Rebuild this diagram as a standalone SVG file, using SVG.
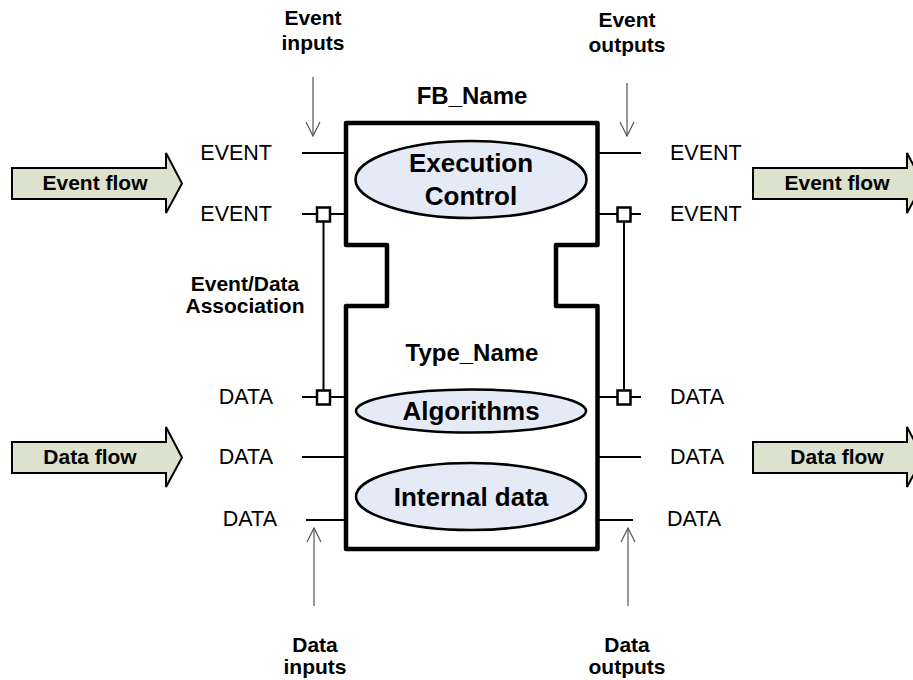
<svg xmlns="http://www.w3.org/2000/svg" width="913" height="680" viewBox="0 0 913 680">
<defs>
<style>
text{font-family:"Liberation Sans",Arial,sans-serif;fill:#000}
.lbl{font-size:21.5px}
.b{font-weight:bold;font-size:21px;text-anchor:middle}
.t{font-weight:bold;font-size:26px;text-anchor:middle}
.h{font-weight:bold;font-size:24px;text-anchor:middle}
.el{fill:#E4EBF6;stroke:#000;stroke-width:2.5}
.pin{stroke:#000;stroke-width:2;fill:none}
.asq{fill:#fff;stroke:#000;stroke-width:2.5}
.flow{fill:#DDE2CE;stroke:#000;stroke-width:2;stroke-linejoin:miter}
.ft{font-weight:bold;font-size:21px;text-anchor:middle}
.gar{stroke:#555;stroke-width:1.2;fill:none}
</style>
<marker id="open" viewBox="0 0 16 16" refX="15" refY="8" markerWidth="16" markerHeight="16" markerUnits="userSpaceOnUse" orient="auto">
<path d="M1,1 L15,8 L1,15" fill="none" stroke="#555" stroke-width="1.2"/>
</marker>
</defs>

<g id="block">
<path d="M346,123 H597.5 V245 H556 V306 H597.5 V549 H346 V306 H387 V245 H346 Z" fill="#fff" stroke="#000" stroke-width="4.5" stroke-linejoin="round"/>
<text class="h" x="472" y="103.5">FB_Name</text>
<text class="h" x="472" y="361">Type_Name</text>
</g>

<g id="execution-control">
<ellipse class="el" cx="471" cy="179.5" rx="115.5" ry="38.5"/>
<text class="t" x="471" y="172">Execution</text>
<text class="t" x="471" y="205">Control</text>
</g>
<g id="algorithms">
<ellipse class="el" cx="471" cy="411" rx="115" ry="21.5"/>
<text class="t" x="471" y="420">Algorithms</text>
</g>
<g id="internal-data">
<ellipse class="el" cx="471" cy="496.5" rx="115" ry="33.5"/>
<text class="t" x="471" y="506">Internal data</text>
</g>

<g id="connectors">
<line class="pin" x1="302" y1="153" x2="346" y2="153"/>
<line class="pin" x1="302" y1="214" x2="346" y2="214"/>
<line class="pin" x1="302" y1="397" x2="346" y2="397"/>
<line class="pin" x1="302" y1="457" x2="346" y2="457"/>
<line class="pin" x1="306" y1="520" x2="346" y2="520"/>
<line class="pin" x1="597" y1="153" x2="641" y2="153"/>
<line class="pin" x1="597" y1="214" x2="641" y2="214"/>
<line class="pin" x1="597" y1="397" x2="641" y2="397"/>
<line class="pin" x1="597" y1="457" x2="641" y2="457"/>
<line class="pin" x1="597" y1="520" x2="633" y2="520"/>
<line class="pin" x1="323.5" y1="214" x2="323.5" y2="397"/>
<line class="pin" x1="624" y1="214" x2="624" y2="397"/>
<rect class="asq" x="317" y="207.5" width="13" height="14"/>
<rect class="asq" x="317" y="390.5" width="13" height="14"/>
<rect class="asq" x="617.5" y="207.5" width="13" height="14"/>
<rect class="asq" x="617.5" y="390.5" width="13" height="14"/>
<line class="gar" x1="313" y1="77" x2="313" y2="136" marker-end="url(#open)"/>
<line class="gar" x1="627" y1="83" x2="627" y2="136" marker-end="url(#open)"/>
<line class="gar" x1="314" y1="606" x2="314" y2="528" marker-end="url(#open)"/>
<line class="gar" x1="628" y1="606" x2="628" y2="528" marker-end="url(#open)"/>
</g>

<g id="pin-labels">
<text class="lbl" x="272" y="160" text-anchor="end">EVENT</text>
<text class="lbl" x="272" y="221" text-anchor="end">EVENT</text>
<text class="lbl" x="273" y="404" text-anchor="end">DATA</text>
<text class="lbl" x="273" y="464" text-anchor="end">DATA</text>
<text class="lbl" x="277" y="526" text-anchor="end">DATA</text>
<text class="lbl" x="670" y="160">EVENT</text>
<text class="lbl" x="670" y="221">EVENT</text>
<text class="lbl" x="670" y="404">DATA</text>
<text class="lbl" x="670" y="464">DATA</text>
<text class="lbl" x="667" y="526">DATA</text>
</g>

<g id="event-inputs-label">
<text class="b" x="313" y="25">Event</text>
<text class="b" x="313" y="50">inputs</text>
</g>
<g id="event-outputs-label">
<text class="b" x="627" y="26.5">Event</text>
<text class="b" x="627" y="52">outputs</text>
</g>
<g id="association-label">
<text class="b" x="245" y="290.5">Event/Data</text>
<text class="b" x="245" y="313">Association</text>
</g>
<g id="data-inputs-label">
<text class="b" x="315" y="652">Data</text>
<text class="b" x="315" y="674">inputs</text>
</g>
<g id="data-outputs-label">
<text class="b" x="627" y="652">Data</text>
<text class="b" x="627" y="674">outputs</text>
</g>

<g id="event-flow-in">
<path class="flow" d="M12,168 H166 V153 L182,183.5 L166,213 V199 H12 Z"/>
<text class="ft" x="95" y="190">Event flow</text>
</g>
<g id="event-flow-out">
<path class="flow" d="M753,168 H907 V153 L923,183.5 L907,213 V199 H753 Z"/>
<text class="ft" x="837" y="190">Event flow</text>
</g>
<g id="data-flow-in">
<path class="flow" d="M12,442 H166 V427 L182,457.5 L166,487 V473 H12 Z"/>
<text class="ft" x="90" y="464">Data flow</text>
</g>
<g id="data-flow-out">
<path class="flow" d="M753,442 H907 V427 L923,457.5 L907,487 V473 H753 Z"/>
<text class="ft" x="837" y="464">Data flow</text>
</g>
</svg>
